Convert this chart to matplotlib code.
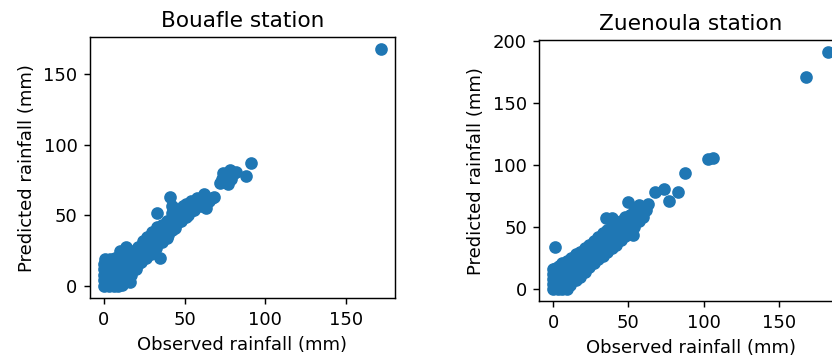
import matplotlib
matplotlib.use("Agg")
import matplotlib.pyplot as plt

# Bouafle station: observed vs predicted daily rainfall (mm)
bouafle_obs = [
    0, 0, 0, 0, 0, 1,
    3, 3, 3, 3, 3, 4,
    6, 6, 6, 6, 6, 7,
    9, 9, 9, 9, 9, 10,
    11, 12, 12, 12, 12, 13,
    14, 15, 15, 15, 15, 16, 16,
    17, 18, 18, 18, 18,
    20, 21, 21, 21, 21,
    23, 24, 24, 24, 24,
    26, 27, 27, 27, 27,
    29, 30, 30, 30, 30,
    32, 33, 33, 33, 33,
    35, 33,
    36, 36, 36, 36,
    39, 39, 39, 39,
    41, 42,
    40, 42, 42, 42, 42,
    44, 45, 45, 45,
    48, 48, 48, 49,
    51, 51, 51,
    52, 54, 54, 54,
    56, 57, 58,
    60, 60, 62,
    63, 65, 67, 68,
    10, 14,
    72, 73, 75, 74, 77, 76, 78, 80, 82, 79, 88, 91,
    171.5,
]
bouafle_pred = [
    0, 4, 8, 12, 16, 19,
    0, 4, 8, 12, 16, 19,
    0, 4, 8, 12, 16, 20,
    0, 4, 8, 12, 16, 22,
    1, 5, 9, 13, 17, 23,
    4, 8, 12, 16, 20, 24, 3,
    8, 12, 16, 20, 25,
    12, 16, 20, 24, 28,
    17, 21, 25, 29, 32,
    20, 24, 28, 32, 35,
    23, 27, 31, 35, 38,
    27, 30, 34, 38, 42,
    20, 52,
    31, 35, 39, 43,
    34, 38, 42, 46,
    63, 57,
    36, 40, 44, 48, 52,
    41, 45, 49, 53,
    46, 50, 54, 57,
    49, 53, 58,
    50, 53, 57, 60,
    54, 58, 62,
    57, 61, 65,
    55, 60, 62, 63,
    25, 28,
    73, 76, 74, 80, 72, 78, 82, 79, 81, 76, 78, 87,
    167.5,
]

# Zuenoula station: observed vs predicted daily rainfall (mm)
zuenoula_obs = [
    0, 0, 0, 0, 0, 2,
    3, 3, 3, 3, 3, 4,
    6, 6, 6, 6, 6, 6,
    9, 9, 9, 9, 9, 9,
    11, 12, 12, 12, 12, 12,
    15, 15, 15, 15, 15,
    18, 18, 18, 18, 18,
    21, 21, 21, 21, 21,
    24, 24, 24, 24, 24,
    27, 27, 27, 27, 27,
    30, 30, 30, 30, 30,
    33, 33, 33, 33, 33,
    35, 39,
    36, 36, 36, 36, 36,
    39, 39, 39, 39, 39,
    42, 42, 42, 42, 42,
    45, 45, 45, 45,
    48, 48, 48, 48,
    50,
    51, 51, 51, 51,
    53,
    54, 54, 54, 54,
    57, 57, 57, 57,
    60, 60, 62, 63,
    68, 74, 83, 77, 88, 103, 106, 168, 183, 1,
]
zuenoula_pred = [
    0, 4, 8, 12, 16, 17,
    0, 4, 8, 12, 16, 19,
    0, 4, 8, 12, 16, 21,
    0, 4, 8, 12, 17, 23,
    3, 7, 12, 17, 21, 25,
    7, 12, 17, 22, 28,
    10, 15, 20, 25, 30,
    14, 19, 24, 29, 33,
    18, 23, 28, 33, 36,
    21, 26, 31, 36, 39,
    24, 29, 34, 38, 42,
    27, 32, 37, 41, 45,
    57, 57,
    30, 35, 40, 44, 48,
    33, 38, 43, 47, 51,
    36, 41, 46, 50, 53,
    40, 45, 50, 55,
    43, 48, 53, 58,
    70,
    46, 51, 56, 60,
    44,
    50, 55, 60, 63,
    55, 60, 64, 68,
    58, 62, 64, 69,
    78, 81, 78, 71, 94, 105, 106, 171, 191, 34,
]

titles = ["Bouafle station", "Zuenoula station"]
x_label = "Observed rainfall (mm)"
y_label = "Predicted rainfall (mm)"

fig = plt.figure(figsize=(832 / 130, 357 / 130), dpi=130)
ax1 = fig.add_axes([0.1082, 0.1653, 0.366, 0.7297])
ax2 = fig.add_axes([0.6484, 0.1569, 0.3636, 0.7297])

for ax, obs, pred, title in [
    (ax1, bouafle_obs, bouafle_pred, titles[0]),
    (ax2, zuenoula_obs, zuenoula_pred, titles[1]),
]:
    ax.scatter(obs, pred, color="#1f77b4")
    ax.set_title(title)
    ax.set_xlabel(x_label)
    ax.set_ylabel(y_label)

ax1.set_xticks([0, 50, 100, 150])
ax1.set_yticks([0, 50, 100, 150])
ax2.set_xticks([0, 50, 100, 150])
ax2.set_yticks([0, 50, 100, 150, 200])

fig.savefig("out.png", dpi=130)
